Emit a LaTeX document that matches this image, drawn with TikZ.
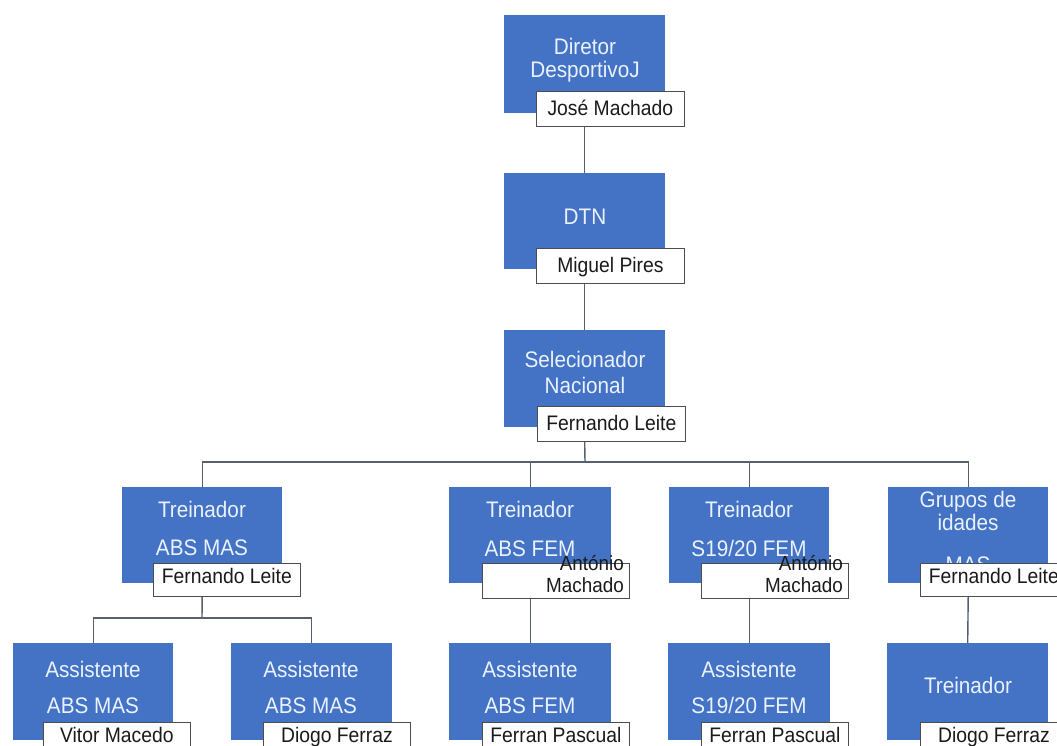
\documentclass[tikz,border=0pt]{standalone}
\usepackage{fontspec}
\setmainfont[FakeStretch=0.92]{Liberation Sans}
\definecolor{boxblue}{HTML}{4472C4}
\definecolor{ttlcol}{HTML}{EAF2FF}
\definecolor{namegray}{HTML}{4D4D4D}
\definecolor{nametext}{HTML}{1A1A1A}
\definecolor{linecol}{HTML}{56606E}
\tikzset{
  bluebox/.style={draw=none, fill=boxblue, minimum width=161pt, minimum height=97pt, anchor=north west, inner sep=0pt},
  namebox/.style={draw=namegray, line width=0.8pt, fill=white, minimum width=147pt, anchor=north west, inner xsep=0pt, inner ysep=0pt, text=nametext, font=\fontsize{21}{22}\selectfont},
  nametop/.style={namebox, text height=24pt, text depth=11pt},
  namemid/.style={namebox, text height=20pt, text depth=13pt},
  nametxt/.style={inner sep=0pt, text=nametext, font=\fontsize{20.5}{22}\selectfont},
  ttl/.style={anchor=base, inner sep=0pt, text=ttlcol, font=\fontsize{22.5}{24}\selectfont},
  conn/.style={draw=linecol, line width=1.4pt}
}
\begin{document}
\begin{tikzpicture}[x=1pt,y=-1pt]
\useasboundingbox (0,0) rectangle (1057,746);
\clip (0,0) rectangle (1057,746);
\fill[white] (0,0) rectangle (1057,746);
% blue boxes
\node[bluebox, minimum height=98pt] (dir) at (504,15) {};
\node[bluebox, minimum height=96pt] (dtn) at (504,173) {};
\node[bluebox] (sel) at (504,330) {};
\node[bluebox, minimum width=160pt, minimum height=96pt] (t1) at (122,487) {};
\node[bluebox, minimum width=162pt, minimum height=96pt] (t2) at (449,487) {};
\node[bluebox, minimum width=160pt, minimum height=96pt] (t3) at (669,487) {};
\node[bluebox, minimum width=160pt, minimum height=96pt] (t4) at (888,487) {};
\node[bluebox, minimum width=160pt] (a1) at (13,643) {};
\node[bluebox] (a2) at (231,643) {};
\node[bluebox, minimum width=162pt] (a3) at (449,643) {};
\node[bluebox, minimum width=162pt] (a4) at (668,643) {};
\node[bluebox] (a5) at (887,643) {};
% coordinates for bus lines
\coordinate (bus) at (585,462);
\coordinate (bus2) at (202,618);
% titles
\node[ttl] (dirt1) at (585,55) {Diretor};
\node[ttl] (dirt2) at (585,78) {DesportivoJ};
\node[ttl] (dtnt) at (585,224) {DTN};
\node[ttl] (selt1) at (585,367) {Selecionador};
\node[ttl] (selt2) at (585,393) {Nacional};
\node[ttl] (t1a) at (202,517) {Treinador};
\node[ttl] (t1b) at (202,555) {ABS MAS};
\node[ttl] (t2a) at (530,517) {Treinador};
\node[ttl] (t2b) at (530,556) {ABS FEM};
\node[ttl] (t3a) at (749,517) {Treinador};
\node[ttl] (t3b) at (749,556) {S19/20 FEM};
\node[ttl] (t4a) at (968,507) {Grupos de};
\node[ttl] (t4b) at (968,530) {idades};
\node[ttl] (t4c) at (968,572) {MAS};
\node[ttl] (a1a) at (93,677) {Assistente};
\node[ttl] (a1b) at (93,713) {ABS MAS};
\node[ttl] (a2a) at (311,677) {Assistente};
\node[ttl] (a2b) at (311,713) {ABS MAS};
\node[ttl] (a3a) at (530,677) {Assistente};
\node[ttl] (a3b) at (530,713) {ABS FEM};
\node[ttl] (a4a) at (749,677) {Assistente};
\node[ttl] (a4b) at (749,713) {S19/20 FEM};
\node[ttl] (a5a) at (968,693) {Treinador};
% name boxes
\node[nametop, minimum width=148pt] (dirn) at (536,91) {José Machado};
\node[nametop, minimum width=148pt] (dtnn) at (536,248) {Miguel Pires};
\node[nametop, minimum width=148pt] (seln) at (537,406) {Fernando Leite};
\node[namemid] (t1n) at (153,563) {Fernando Leite};
\node[namebox, minimum height=35pt] (t2n) at (482,563) {};
\node[namebox, minimum height=35pt] (t3n) at (701,563) {};
\node[namemid] (t4n) at (920,563) {Fernando Leite};
\node[namemid, text depth=15pt] (a1n) at (43,722) {Vitor Macedo};
\node[namemid, text depth=15pt] (a2n) at (263,722) {Diogo Ferraz};
\node[namemid, text depth=15pt] (a3n) at (482,722) {Ferran Pascual};
\node[namemid, text depth=15pt] (a4n) at (701,722) {Ferran Pascual};
\node[namemid, text depth=15pt] (a5n) at (920,722) {Diogo Ferraz};
\node[nametxt, anchor=base east] (t2n1) at (624,570) {António};
\node[nametxt, anchor=base east] (t2n2) at (624,592) {Machado};
\node[nametxt, anchor=base east] (t3n1) at (843,570) {António};
\node[nametxt, anchor=base east] (t3n2) at (843,592) {Machado};
% connectors
\draw[conn] (dtn.north |- dirn.south) -- (dtn.north);
\draw[conn] (sel.north |- dtnn.south) -- (sel.north);
\draw[conn] (sel.center |- seln.south) -- (bus);
\draw[conn] (t1.north) -- (t1.north |- bus) -- (t4.north |- bus) -- (t4.north);
\draw[conn] (t2.north |- bus) -- (t2.north);
\draw[conn] (t3.north |- bus) -- (t3.north);
\draw[conn] (t1.center |- t1n.south) -- (bus2);
\draw[conn] (a1.north) -- (a1.north |- bus2) -- (a2.north |- bus2) -- (a2.north);
\draw[conn] (t2.center |- t2n.south) -- (a3.north);
\draw[conn] (t3.center |- t3n.south) -- (a4.north);
\draw[conn] (t4.center |- t4n.south) -- (a5.north);
\end{tikzpicture}
\end{document}
